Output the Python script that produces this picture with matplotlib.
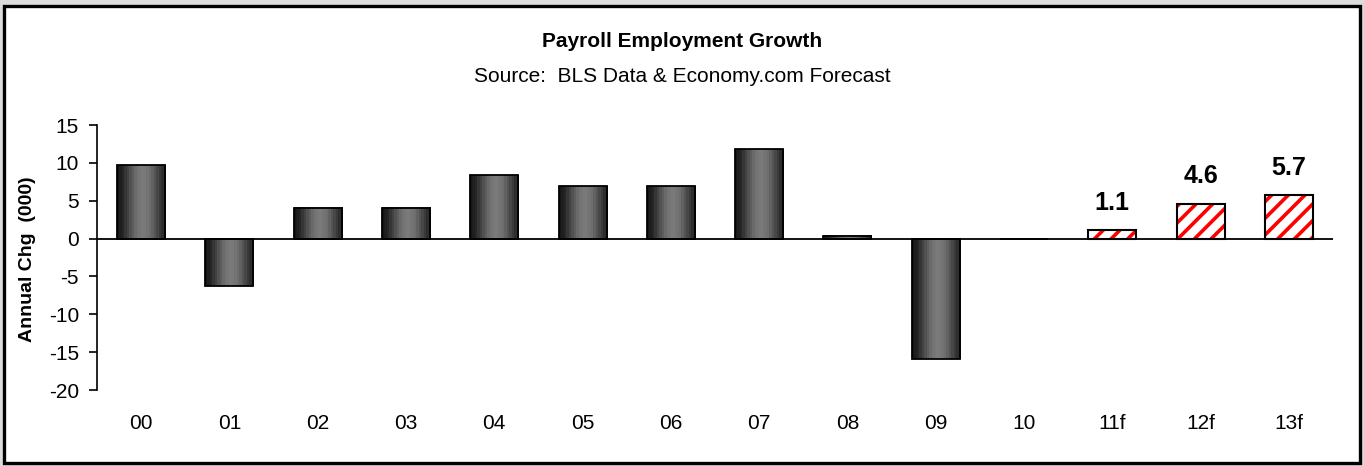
import matplotlib
matplotlib.use("Agg")
from matplotlib import pyplot as plt
from matplotlib.colors import LinearSegmentedColormap
from matplotlib.patches import Rectangle
import numpy as np

# annual change in payroll employment (000), history + forecast
years = ['00', '01', '02', '03', '04', '05', '06', '07', '08', '09', '10']
growth = [9.7, -6.2, 4.1, 4.1, 8.4, 7.0, 7.0, 11.8, 0.4, -15.9, 0.0]
fcst_years = ['11f', '12f', '13f']
fcst_growth = [1.1, 4.6, 5.7]

labels = years + fcst_years
x = np.arange(len(labels))
x_hist = x[:len(years)]
x_fcst = x[len(years):]
w = 0.545

plt.rcParams['font.family'] = ['Liberation Sans', 'DejaVu Sans']
plt.rcParams['hatch.linewidth'] = 2.6
plt.rcParams['axes.unicode_minus'] = False

fig = plt.figure(figsize=(13.64, 4.66), dpi=100)
fig.patch.set_facecolor('#dcdcdc')
fig.patches.append(Rectangle((3.5/1364, 3.5/466), 1356.5/1364, 457/466,
                             transform=fig.transFigure, facecolor='white',
                             edgecolor='black', linewidth=2.4, zorder=-5))

ax = fig.add_axes([97/1364, 1-390/466, 1236/1364, 265/466])
ax.set_facecolor('none')

# cylinder-like shading for the history bars
shade = LinearSegmentedColormap.from_list('cyl', [
    (0.0, '#161616'), (0.1, '#262626'), (0.25, '#4e4e4e'), (0.4, '#727272'),
    (0.55, '#7c7c7c'), (0.7, '#6c6c6c'), (0.85, '#464646'), (1.0, '#222222')])
grad = np.linspace(0, 1, 20).reshape(1, -1)
for xi, v in zip(x_hist, growth):
    if v == 0:
        continue
    ax.imshow(grad, cmap=shade, extent=[xi - w/2, xi + w/2, 0, v],
              aspect='auto', interpolation='nearest', zorder=2)
ax.bar(x_hist, growth, width=w, fill=False, edgecolor='black',
       linewidth=1.3, zorder=3)

# forecast bars: red hatch on white
ax.bar(x_fcst, fcst_growth, width=w, facecolor='white', edgecolor='#ff0000',
       hatch='//', linewidth=0, zorder=2)
ax.bar(x_fcst, fcst_growth, width=w, fill=False, edgecolor='black',
       linewidth=1.5, zorder=3)
for xi, v in zip(x_fcst, fcst_growth):
    ax.annotate('%.1f' % v, (xi, v), xytext=(0, 11), textcoords='offset points',
                ha='center', va='bottom', fontsize=18, fontweight='bold')

ax.axhline(0, color='black', linewidth=1.3, zorder=4)

ax.set_xlim(-0.5, len(labels) - 0.5)
ax.set_ylim(-20, 15)
ax.set_yticks(range(-20, 16, 5))
ax.set_xticks(x)
ax.set_xticklabels(labels)
ax.tick_params(axis='y', direction='out', length=6, width=1.2, labelsize=15, pad=7)
ax.tick_params(axis='x', length=0, labelsize=15, pad=17)
for s in ['top', 'right', 'bottom']:
    ax.spines[s].set_visible(False)
ax.spines['left'].set_linewidth(1.2)

fig.text(28/1364, 1-259/466, 'Annual Chg  (000)', rotation=90, ha='center',
         va='center', fontsize=14, fontweight='bold')
fig.text(682/1364, 1-47/466, 'Payroll Employment Growth', ha='center',
         va='baseline', fontsize=15, fontweight='bold')
fig.text(682/1364, 1-82/466, 'Source:  BLS Data & Economy.com Forecast',
         ha='center', va='baseline', fontsize=15)

fig.savefig('out.png', dpi=100, facecolor=fig.get_facecolor())
